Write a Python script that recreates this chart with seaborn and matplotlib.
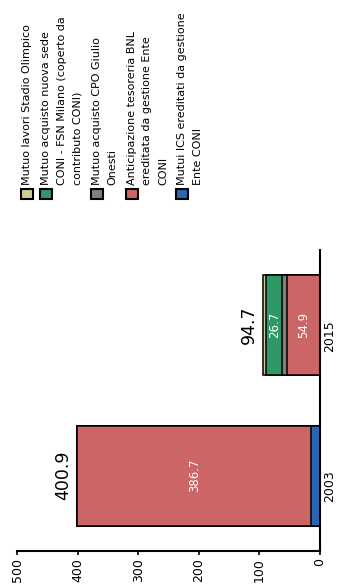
import numpy as np
import pandas as pd
import matplotlib
matplotlib.use('Agg')
import matplotlib.pyplot as plt
from matplotlib.patches import Rectangle
import seaborn as sns

# data (stack order from the baseline outward)
years = ['2003', '2015']
series = ['Mutui ICS ereditati da gestione\nEnte CONI',
          'Anticipazione tesoreria BNL\nereditata da gestione Ente\nCONI',
          'Mutuo acquisto CPO Giulio\nOnesti',
          'Mutuo acquisto nuova sede\nCONI - FSN Milano (coperto da\ncontributo CONI)',
          'Mutuo lavori Stadio Olimpico']
mutui_ics = [14.2, 0.0]
anticipazione = [386.7, 54.9]
cpo_onesti = [0.0, 7.3]
nuova_sede = [0.0, 26.7]
stadio = [0.0, 5.8]
colors = ['#2B65B5', '#CC6666', '#808080', '#2E9966', '#CFCC99']

vals = np.array([mutui_ics, anticipazione, cpo_onesti, nuova_sede, stadio])
cum = np.cumsum(vals, axis=0)
totals = cum[-1]

sns.set_theme(style='white')
plt.rcParams['font.family'] = ['DejaVu Sans']

fig = plt.figure(figsize=(3.38, 5.84), dpi=100)
ax = fig.add_axes([17/338, 1-551/584, (320-17)/338, (551-250)/584])

order = ['2015', '2003']
# draw cumulative bars, biggest first, so they look stacked
for k in range(len(series)-1, -1, -1):
    df = pd.DataFrame({'year': years, 'cum': cum[k]})
    sns.barplot(data=df, x='cum', y='year', order=order, orient='h', color=colors[k],
                saturation=1, width=0.667, edgecolor='black', linewidth=1.1,
                errorbar=None, ax=ax)

ax.set_xlim(500, 0)
ax.set_ylim(1.5, -0.5)
ax.set_xlabel('')
ax.set_ylabel('')
ax.set_xticks([0, 100, 200, 300, 400, 500])
for s in ['top', 'left']:
    ax.spines[s].set_visible(False)
for s in ['right', 'bottom']:
    ax.spines[s].set_color('black')
    ax.spines[s].set_linewidth(1.5)
ax.tick_params(axis='x', bottom=True, length=3, width=1.2, direction='out',
               labelrotation=90, labelsize=9, pad=2, colors='black')
ax.yaxis.tick_right()
ax.tick_params(axis='y', right=False, left=False, labelright=True, labelleft=False,
               length=0, labelrotation=90, labelsize=9, pad=2.5, colors='black')

pos = {y: order.index(y) for y in years}
for i, y in enumerate(years):
    # segment labels
    for k in range(len(series)):
        v = vals[k, i]
        if v > 20:
            ax.text(cum[k, i] - v/2, pos[y], f'{v:.1f}', rotation=90, ha='center',
                    va='center', color='white', fontsize=8.5)
    # totals
    ax.annotate(f'{totals[i]:.1f}', xy=(totals[i], pos[y]), xytext=(-3.5, 0),
                textcoords='offset points', rotation=90, ha='right', va='center',
                fontsize=12.5, color='black')

# legend, drawn rotated like the rest of the chart
W, H = 338, 584
x = 27
step = 15.7
for k in range(len(series)-1, -1, -1):
    fig.add_artist(Rectangle(((x-6)/W, 1-199/H), 12/W, 10/H, transform=fig.transFigure,
                             facecolor=colors[k], edgecolor='black', linewidth=1.5))
    lines = series[k].split('\n')
    for j, line in enumerate(lines):
        fig.text((x + j*step)/W, 1-185/H, line, rotation=90, ha='center', va='bottom',
                 fontsize=8, color='black')
    x += len(lines)*step + 3.5

fig.savefig('out.png', dpi=100)
